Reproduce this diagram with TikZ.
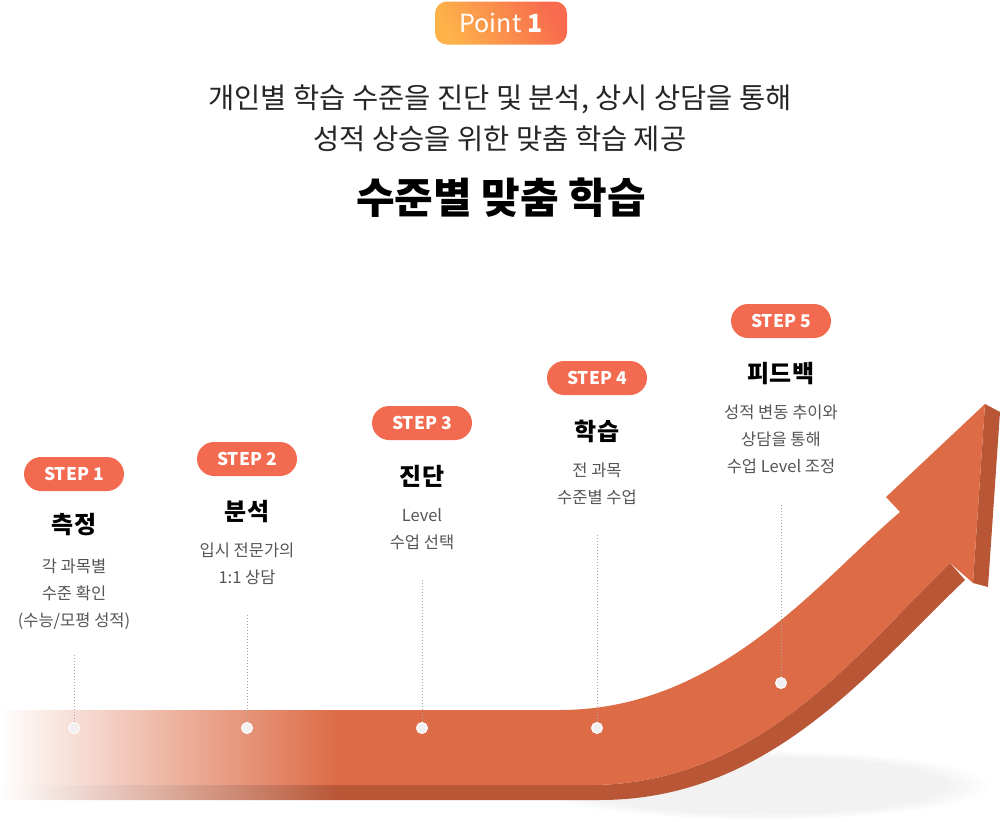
\documentclass[tikz,border=0pt]{standalone}
\usepackage{fontspec}
\setmainfont{Noto Sans CJK KR}
\usetikzlibrary{fadings}
\definecolor{arr}{HTML}{DD6B45}
\definecolor{arrd}{HTML}{B85636}
\definecolor{badge}{HTML}{F26B50}
\definecolor{desc}{HTML}{555555}
\tikzset{
 stepbadge/.style={fill=badge,text=white,rounded corners=17pt,minimum width=100pt,minimum height=34pt,inner sep=0pt,font=\fontsize{17.5}{17}\selectfont\bfseries},
 stephead/.style={font=\fontsize{24}{24}\selectfont\bfseries,text=black},
 stepdesc/.style={font=\fontsize{16.5}{27}\selectfont,text=desc,align=center,anchor=north},
 guide/.style={draw=gray!70,dotted,line width=1pt},
 dotn/.style={circle,fill=gray!12,draw=white,line width=1pt,minimum size=11pt,inner sep=0pt}
}
\begin{document}
\begin{tikzpicture}[x=1pt,y=-1pt]
\useasboundingbox (0,0) rectangle (1002,822);
% shadow
\fill[gray!10,path fading=circle with fuzzy edge 20 percent] (760,785) ellipse (230 and 35);
% arrow side faces
\fill[arrd] (950,563) -- (965,580) .. controls (870,670) and (770,800) .. (600,800) -- (0,800) -- (0,785) -- (590,785) .. controls (760,785) and (860,650) .. (950,563) -- cycle;
\fill[arrd] (985,404) -- (1000,412) -- (988,587) -- (973,583) -- cycle;
% arrow front
\fill[arr] (0,710) -- (560,710) .. controls (720,710) and (820,580) .. (900,512) -- (886,497) -- (985,404) -- (973,583) -- (950,563) .. controls (860,650) and (760,785) .. (590,785) -- (0,785) -- cycle;
% left fade
\fill[white,path fading=east] (0,700) rectangle (340,805);
% Point badge
\node[left color={rgb,255:red,253;green,178;blue,74},right color={rgb,255:red,248;green,107;blue,78},shading angle=120,rounded corners=12pt,minimum width=132pt,minimum height=43pt,inner sep=0pt,text=white,font=\fontsize{25}{25}\selectfont] (point) at (501,23) {Point \textbf{1}};
\node[font=\fontsize{28.5}{41}\selectfont,align=center,text=black!85] (sub) at (500,118) {개인별 학습 수준을 진단 및 분석, 상시 상담을 통해\\성적 상승을 위한 맞춤 학습 제공};
\node[font=\fontsize{42}{42}\selectfont\bfseries] (title) at (501,198) {수준별 맞춤 학습};
% steps
\node[stepbadge] (b1) at (74,474) {STEP 1};
\node[stephead] (h1) at (74,525) {측정};
\node[stepdesc] (d1) at (74,555) {각 과목별\\수준 확인\\(수능/모평 성적)};
\node[stepbadge] (b2) at (247,459) {STEP 2};
\node[stephead] (h2) at (247,512) {분석};
\node[stepdesc] (d2) at (247,539) {입시 전문가의\\1:1 상담};
\node[stepbadge] (b3) at (422,423) {STEP 3};
\node[stephead] (h3) at (422,476) {진단};
\node[stepdesc] (d3) at (422,505) {Level\\수업 선택};
\node[stepbadge] (b4) at (597,378) {STEP 4};
\node[stephead] (h4) at (597,431) {학습};
\node[stepdesc] (d4) at (597,459) {전 과목\\수준별 수업};
\node[stepbadge] (b5) at (781,321) {STEP 5};
\node[stephead] (h5) at (781,374) {피드백};
\node[stepdesc] (d5) at (781,401) {성적 변동 추이와\\상담을 통해\\수업 Level 조정};
% guides
\coordinate (g1) at (74,655); \node[dotn] (p1) at (74,728) {};
\coordinate (g2) at (247,615); \node[dotn] (p2) at (247,728) {};
\coordinate (g3) at (422,580); \node[dotn] (p3) at (422,728) {};
\coordinate (g4) at (597,535); \node[dotn] (p4) at (597,728) {};
\coordinate (g5) at (781,505); \node[dotn] (p5) at (781,683) {};
\foreach \i in {1,...,5} \draw[guide] (g\i) -- (p\i);
\end{tikzpicture}
\end{document}
